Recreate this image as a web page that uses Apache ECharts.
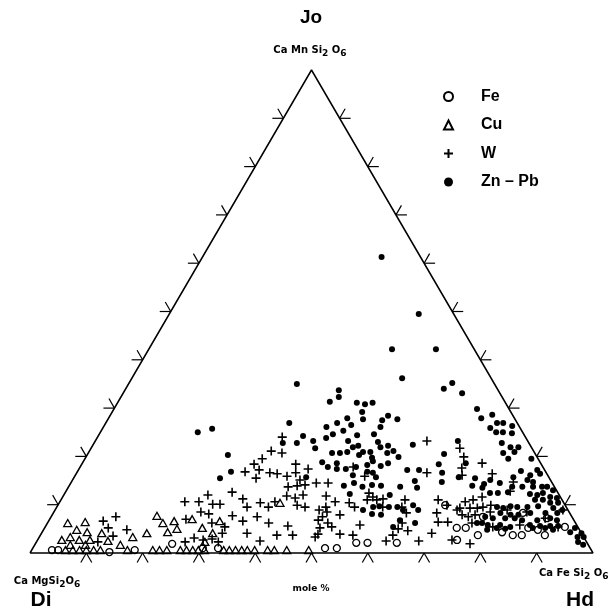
<!DOCTYPE html>
<html>
<head>
<meta charset="utf-8">
<script src="https://cdn.jsdelivr.net/npm/echarts@6/dist/echarts.min.js"></script>
<style>html,body{margin:0;padding:0;background:#fff}#c{width:614px;height:612px}</style>
</head>
<body>
<div id="c"></div>
<script>
// Ternary compositions, mole %: [Hd, Jo]  (Di = 100 - Hd - Jo)
const tickValues = [10, 20, 30, 40, 50, 60, 70, 80, 90];
const seriesNames = ['Fe', 'Cu', 'W', 'Zn – Pb'];

const feData = [
  [3.6,0.6],[4.7,0.6],[14.0,0.2],[18.3,0.6],[24.3,1.9],[30.2,1.0],[32.9,1.0],
  [51.9,1.0],[54.0,1.0],[56.9,2.1],[58.9,2.1],[64.1,2.1],[68.8,9.9],
  [73.2,5.2],[74.5,2.7],[74.8,5.2],[77.7,3.7],[76.7,7.5],[81.7,4.3],[83.9,3.7],
  [85.5,3.7],[85.9,5.2],[87.8,4.8],[89.6,3.7],[83.4,8.3],[88.2,7.2],[92.3,5.4]
];

const cuData = [
  [6.0,0.6],[7.3,0.6],[8.5,0.6],[9.7,0.6],[11.0,0.6],[12.2,0.6],[17.0,0.6],
  [21.5,0.6],[22.7,0.6],[24.0,0.6],[26.4,0.6],[27.5,0.6],[28.6,0.6],[29.6,0.6],[30.7,0.6],
  [34.1,0.6],[35.1,0.6],[36.2,0.6],[37.3,0.6],[38.3,0.6],[39.6,0.6],[41.9,0.6],[43.1,0.6],
  [45.3,0.6],[49.2,0.6],
  [3.6,6.2],[6.6,6.4],[5.9,4.8],[8.0,4.3],[10.7,4.1],[4.3,2.7],[5.5,3.3],[7.4,2.7],
  [9.3,2.7],[12.6,2.5],[6.3,1.7],[9.0,1.7],[15.2,1.7],[16.6,3.3],[18.7,4.1],[18.7,7.7],
  [20.5,6.2],[22.3,6.6],[22.3,4.3],[23.6,5.0],[25.3,7.0],[28.0,5.2],[30.4,4.1],[30.4,6.6],
  [39.2,10.4],[29.9,2.3]
];

const wData = [
  [9.7,6.6],[11.5,7.5],[11.3,5.2],[13.0,3.5],[10.9,2.3],[14.8,4.8],
  [22.2,10.6],[24.7,10.6],[25.6,12.0],[27.4,10.1],[28.7,10.1],[26.1,8.5],[27.7,8.1],
  [24.2,7.0],[29.2,6.2],[26.4,2.3],[27.6,3.1],[29.4,2.7],[30.9,2.9],[32.3,2.3],
  [29.6,12.6],[32.2,11.2],[33.8,9.5],[32.1,7.7],[34.5,6.6],[36.5,4.1],[32.1,4.1],
  [29.8,16.8],[30.6,18.4],[31.5,19.5],[32.1,17.2],[32.4,15.5],[34.3,16.6],[35.7,16.4],
  [37.7,15.9],[32.8,24.0],[32.3,21.1],[34.4,20.7],[38.0,18.4],[38.9,16.6],[40.7,17.4],
  [40.4,15.1],[40.5,13.9],[41.8,14.1],[43.6,14.5],[39.0,13.7],[39.7,11.8],[41.4,11.4],
  [42.5,12.0],[42.5,9.9],[44.1,9.5],[46.9,8.9],[47.8,6.8],[48.9,5.2],[49.2,3.9],[49.0,3.3],
  [35.7,10.4],[37.6,9.5],[38.2,10.6],[36.6,7.5],[39.3,6.2],[43.0,5.6],[42.0,3.7],
  [44.8,3.7],[39.6,2.5],[31.9,5.4],
  [58.9,23.2],[62.2,16.6],[48.5,17.8],[51.5,15.9],[45.7,14.5],[46.7,11.8],[48.9,10.6],
  [47.8,9.5],[48.5,8.5],[51.1,7.9],[48.2,7.5],[49.8,6.2],[50.9,5.4],[53.1,3.9],[55.5,3.7],
  [55.7,5.8],[51.5,10.4],[52.9,9.5],[54.4,11.0],[56.1,11.0],[57.1,11.2],[57.9,9.5],
  [55.1,11.6],[54.0,12.4],[61.1,11.0],[61.3,9.5],[62.7,8.3],[63.0,6.2],[62.9,5.0],
  [62.6,3.7],[62.0,2.5],[64.8,4.6],[67.8,2.5],[69.3,4.1],[68.1,8.3],[67.0,11.0],
  [69.3,6.4],[71.0,6.4],[73.6,2.7],[71.4,8.9],[69.1,9.9],
  [65.5,21.7],[67.1,19.9],[67.9,17.6],[68.7,16.1],[71.0,18.6],[73.9,16.4],[78.5,14.7],
  [78.9,12.8],[72.0,10.6],[73.2,11.0],[74.5,11.6],[71.7,9.3],[73.5,9.3],[74.8,9.3],
  [75.7,9.5],[76.9,9.9],[72.8,7.9],[74.1,7.5],[75.1,7.9],[77.5,8.5],[75.4,6.2],[79.5,5.4],
  [80.3,8.9],[84.0,8.5],[87.9,7.2],[84.1,5.8],[91.1,5.4],[90.2,8.9],[77.2,1.9]
];

const znpbData = [
  [31.8,61.3],[44.3,49.5],[43.2,42.2],[51.0,42.2],[48.0,36.2],[29.9,35.0],[38.0,33.7],
  [38.7,32.3],[37.6,31.3],[42.5,31.1],[44.1,30.8],[45.3,31.1],[56.5,34.0],[57.4,35.2],
  [60.2,33.1],[64.5,29.8],[17.3,25.0],[19.5,25.7],[25.0,20.3],[27.3,16.8],[26.0,15.5],
  [32.6,26.9],[36.4,24.2],[36.0,22.8],[38.7,23.2],[39.8,21.7],[33.5,22.8],[41.2,15.7],
  [44.4,29.2],[45.3,27.7],[39.6,26.1],[41.1,26.9],[42.4,27.9],[43.8,26.5],[43.0,25.3],
  [41.5,24.6],[40.7,23.8],[45.9,24.4],[48.8,24.6],[49.2,26.1],[48.8,27.5],[49.4,28.4],
  [51.4,27.7],[50.3,23.0],[51.3,21.9],[52.5,22.2],[53.1,20.7],[54.0,21.1],[55.5,19.9],
  [44.9,23.2],[46.4,21.9],[47.2,22.2],[48.7,20.9],[50.0,20.9],[48.3,20.3],[45.9,20.9],
  [44.7,20.7],[43.3,20.7],[42.5,18.8],[44.0,17.8],[45.2,18.6],[47.4,17.4],[49.0,17.8],
  [50.8,18.2],[51.4,19.0],[53.3,18.0],[54.3,18.6],[45.8,17.4],[49.3,16.1],[51.5,16.8],
  [52.6,16.6],[53.6,15.7],[50.3,14.5],[52.2,13.7],[48.8,13.9],[50.7,12.2],[54.7,8.9],
  [56.7,8.1],[58.4,7.9],[58.4,17.2],[60.5,17.2],[56.8,22.4],[60.9,14.9],[62.0,13.5],
  [58.9,13.7],[57.9,12.0],[63.4,18.4],[63.3,20.5],[64.9,16.6],[65.8,14.7],[64.4,23.2],
  [68.3,15.7],[63.1,9.9],[64.5,8.9],[65.3,6.2],[60.5,9.5],[61.8,8.9],[62.3,6.8],[61.8,5.4],
  [57.2,9.7],[56.2,9.5],[50.9,19.7],[53.7,14.1],[55.4,13.9],[59.0,9.5],
  [66.2,27.9],[67.8,28.6],[69.5,26.9],[70.6,26.9],[68.8,25.9],[70.3,25.0],[71.5,25.0],
  [72.5,26.3],[73.2,24.8],[72.4,22.8],[74.4,21.9],[75.8,21.9],[75.6,20.9],[73.7,20.7],
  [75.2,19.5],[79.3,19.5],[68.1,18.6],[78.7,17.0],[81.5,17.2],[82.4,16.4],[80.8,16.1],
  [80.8,15.1],[82.0,14.7],[78.0,15.7],[74.2,15.1],[73.5,14.3],[71.3,15.5],[71.6,13.9],
  [73.6,13.5],[76.2,14.5],[78.8,13.7],[80.6,13.7],[82.5,13.7],[84.1,13.7],[85.0,13.7],
  [86.4,13.0],[75.5,12.4],[76.9,12.4],[78.6,12.6],[82.7,12.2],[84.1,12.0],[84.9,12.4],
  [86.6,11.6],[87.9,11.4],[84.2,11.0],[85.6,11.0],[87.2,10.4],[88.6,10.4],[78.2,9.5],
  [79.4,9.3],[80.5,9.7],[81.8,9.5],[83.6,9.5],[85.4,9.7],[88.3,9.3],[90.1,8.9],[79.4,8.3],
  [81.4,7.9],[82.8,7.9],[84.7,8.3],[87.4,8.3],[89.5,8.3],[77.1,7.5],[78.6,7.2],[80.8,7.2],
  [82.5,7.2],[84.0,6.8],[86.7,6.8],[88.8,7.2],[90.2,6.8],[77.2,6.2],[78.4,5.8],[80.6,5.8],
  [82.6,5.4],[85.9,5.8],[87.8,5.6],[89.6,5.6],[91.0,5.6],[80.3,5.2],[81.9,5.0],[86.7,5.2],
  [88.9,5.2],[90.5,4.8],[93.8,4.3],[94.2,5.2],[95.9,4.1],[95.6,3.3],[96.7,3.3],[96.2,2.3],
  [97.4,1.7],[76.3,6.2],[78.8,4.8]
];

// ternary [Hd, Jo] -> plot plane (Di at left, Hd at right, Jo at top)
const toPlane = d => [d[0] + d[1] / 2, d[1]];

const tickRows = [];
for (let side = 0; side < 3; side++) tickValues.forEach(v => tickRows.push([side, v]));

const chart = echarts.init(document.getElementById('c'), null, {renderer: 'canvas'});
const FONT = '"Liberation Sans", Arial, Helvetica, sans-serif';
const SMALL = '"DejaVu Sans", sans-serif';
const openStyle = {color: 'rgba(255,255,255,0)', borderColor: '#000', borderWidth: 1.3, opacity: 1};
const subRich = {s: {font: 'bold 9px ' + SMALL, fill: '#000', padding: [8, 0, 0, 0]}};

chart.setOption({
  backgroundColor: '#fff',
  animation: false,
  grid: {left: 30, right: 21, top: 70, bottom: 59},
  xAxis: {type: 'value', min: 0, max: 100, show: false},
  yAxis: {type: 'value', min: 0, max: 100, show: false},
  legend: {
    orient: 'vertical', left: 438, top: 83, itemWidth: 9, itemHeight: 9, itemGap: 11.5,
    selectedMode: false,
    data: seriesNames,
    textStyle: {fontFamily: FONT, fontWeight: 'bold', fontSize: 16, color: '#000',
      lineHeight: 17, padding: [0, 0, 0, 23]}
  },
  graphic: [
    {type: 'text', x: 311, y: 18, style: {text: 'Jo', font: 'bold 19px ' + FONT, fill: '#000', align: 'center', verticalAlign: 'middle'}},
    {type: 'text', x: 310, y: 50, style: {text: 'Ca Mn Si{s|2} O{s|6}', font: 'bold 10px ' + SMALL, fill: '#000', align: 'center', verticalAlign: 'middle', rich: subRich}},
    {type: 'text', x: 47, y: 581, style: {text: 'Ca MgSi{s|2}O{s|6}', font: 'bold 10px ' + SMALL, fill: '#000', align: 'center', verticalAlign: 'middle', rich: subRich}},
    {type: 'text', x: 41, y: 600, style: {text: 'Di', font: 'bold 21px ' + FONT, fill: '#000', align: 'center', verticalAlign: 'middle'}},
    {type: 'text', x: 311, y: 589, style: {text: 'mole %', font: 'bold 9px ' + SMALL, fill: '#000', align: 'center', verticalAlign: 'middle'}},
    {type: 'text', x: 539, y: 573, style: {text: 'Ca Fe Si{s|2} O{s|6}', font: 'bold 10px ' + SMALL, fill: '#000', align: 'left', verticalAlign: 'middle', rich: subRich}},
    {type: 'text', x: 580, y: 600, style: {text: 'Hd', font: 'bold 21px ' + FONT, fill: '#000', align: 'center', verticalAlign: 'middle'}}
  ],
  series: [
    {
      type: 'line', silent: true, clip: false, symbol: 'none', z: 1,
      data: [[0,0],[100,0],[50,100],[0,0]],
      lineStyle: {color: '#000', width: 1.5}
    },
    {
      type: 'custom', silent: true, clip: false, z: 1,
      data: tickRows,
      renderItem: function (params, api) {
        const side = api.value(0), v = api.value(1), L = 11;
        let p, dirs;
        if (side === 0) { p = api.coord([v, 0]); dirs = [[-0.5, 0.866], [0.5, 0.866]]; }
        else if (side === 1) { p = api.coord([v / 2, v]); dirs = [[-1, 0], [-0.5, -0.866]]; }
        else { p = api.coord([100 - v / 2, v]); dirs = [[1, 0], [0.5, -0.866]]; }
        return {type: 'group', children: dirs.map(d => ({
          type: 'line',
          shape: {x1: p[0], y1: p[1], x2: p[0] + d[0] * L, y2: p[1] + d[1] * L},
          style: {stroke: '#000', lineWidth: 1.2}
        }))};
      }
    },
    {name: 'Fe', type: 'scatter', silent: true, symbol: 'circle', symbolSize: 7, z: 3,
      itemStyle: openStyle, data: feData.map(toPlane)},
    {name: 'Cu', type: 'scatter', silent: true, symbol: 'triangle', symbolSize: [8, 7], z: 3,
      itemStyle: openStyle, data: cuData.map(toPlane)},
    {name: 'W', type: 'scatter', silent: true, symbol: 'path://M5,0L5,10M0,5L10,5', symbolSize: 9, z: 3,
      itemStyle: {color: 'rgba(0,0,0,0)', borderColor: '#000', borderWidth: 1.6, opacity: 1}, data: wData.map(toPlane)},
    {name: 'Zn – Pb', type: 'scatter', silent: true, symbol: 'circle', symbolSize: 6, z: 3,
      itemStyle: {color: '#000', opacity: 1}, data: znpbData.map(toPlane)}
  ]
});
</script>
</body>
</html>
